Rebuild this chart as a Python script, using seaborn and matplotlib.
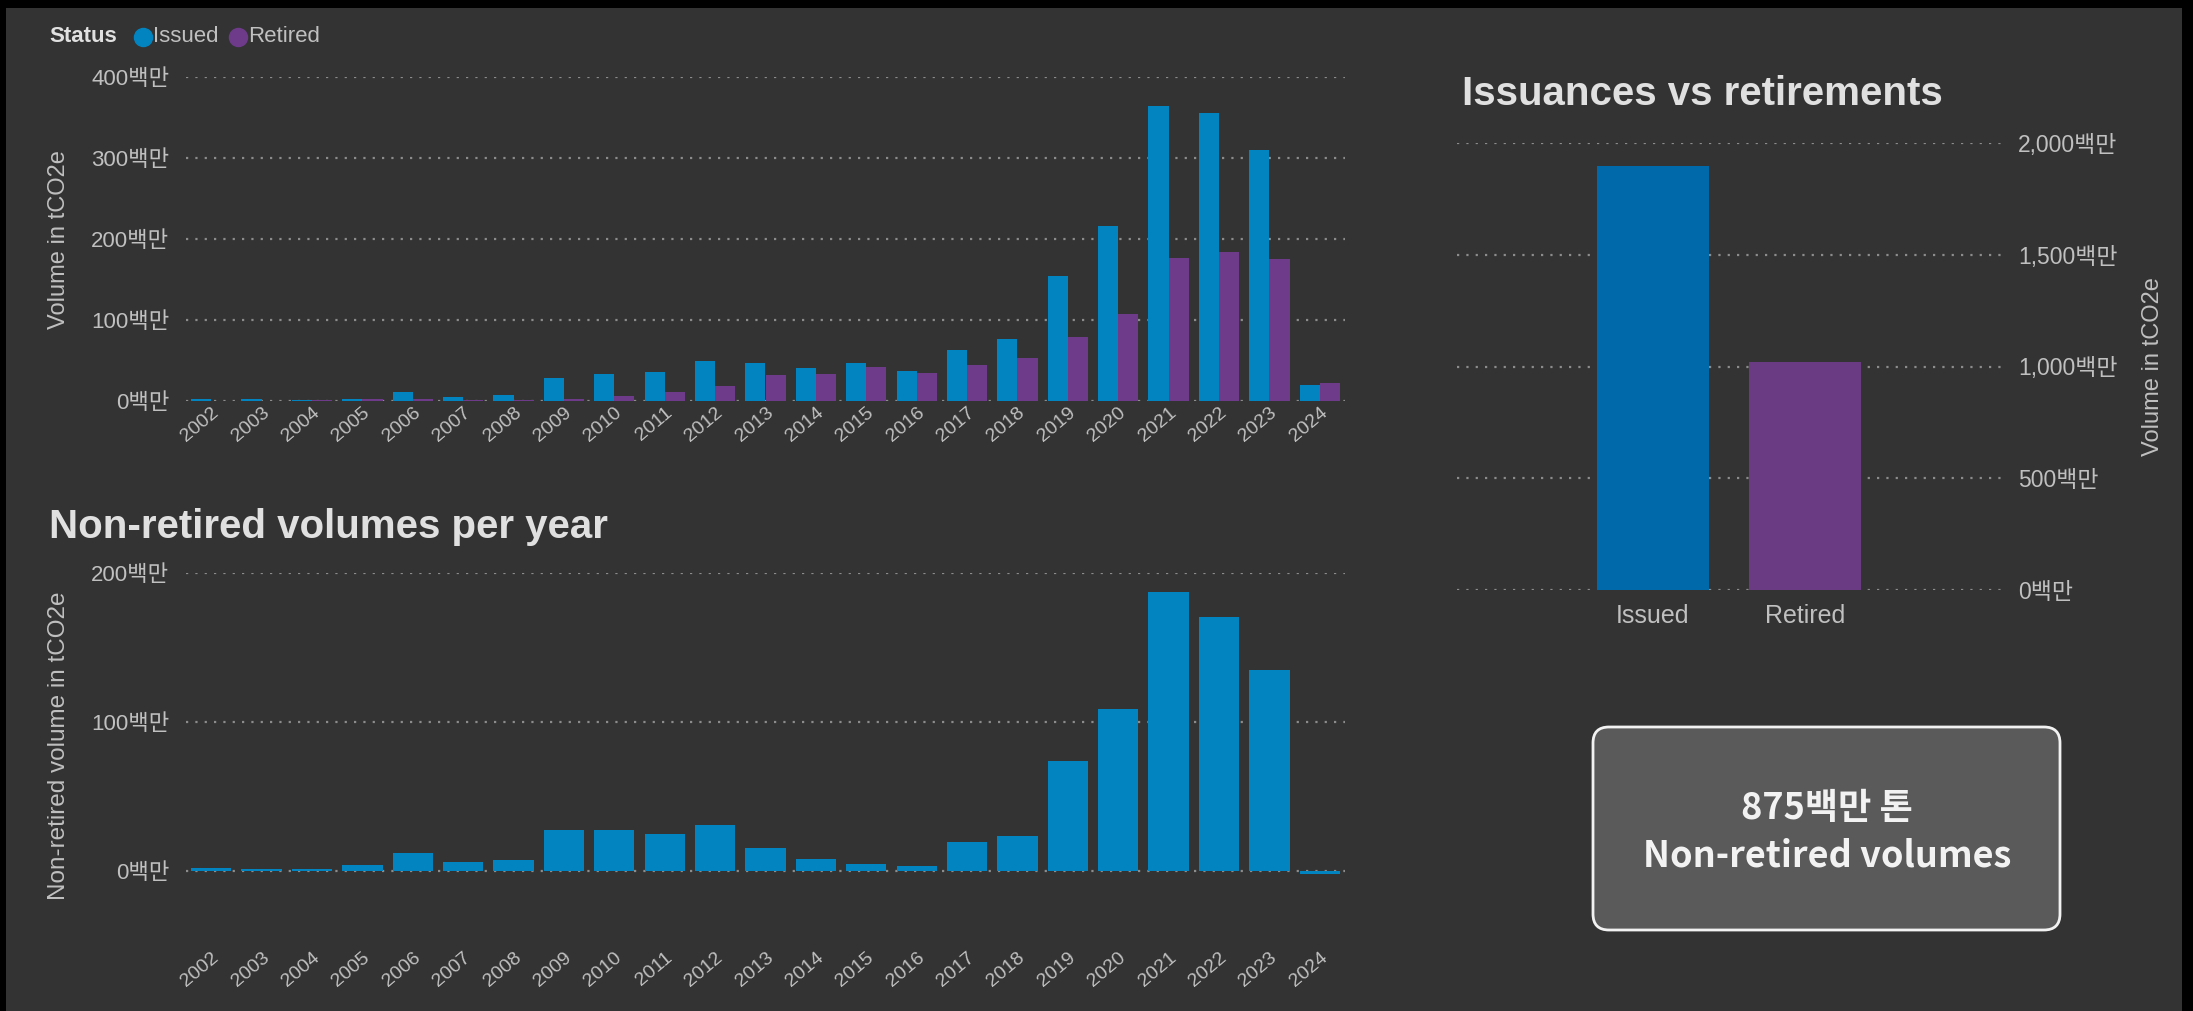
import matplotlib
matplotlib.use("Agg")
import matplotlib.pyplot as plt
from matplotlib.patches import FancyBboxPatch, Rectangle
from matplotlib.lines import Line2D
from matplotlib.ticker import FuncFormatter, FixedLocator
from matplotlib.transforms import IdentityTransform
import seaborn as sns
import pandas as pd

# ---- data (volumes in millions of tCO2e) ----
years = [str(y) for y in range(2002, 2025)]
issued = [2.0, 2.0, 1.5, 2.5, 10.5, 5.0, 7.5, 28.5, 33.0, 35.5, 49.5, 47.5,
          41.0, 47.0, 37.0, 62.5, 76.0, 154.0, 216.5, 364.0, 355.0, 309.5, 19.4]
retired = [0.5, 0.3, 1.5, 3.0, 2.0, 1.5, 1.0, 2.0, 6.0, 11.0, 19.0, 31.5,
           33.0, 42.0, 34.0, 44.6, 53.5, 79.5, 108.0, 176.0, 184.0, 175.6, 22.5]
non_retired = [1.8, 1.3, 1.3, 4.0, 11.9, 6.0, 7.4, 27.5, 27.3, 24.6, 31.0, 15.7,
               7.8, 4.9, 3.3, 19.4, 23.2, 74.0, 108.6, 187.5, 170.3, 134.7, -2.2]
status = ["Issued", "Retired"]
status_totals = [1895, 1020]

top_ticks = [0, 100, 200, 300, 400]
bottom_ticks = [0, 100, 200]
right_ticks = [0, 500, 1000, 1500, 2000]

# ---- style ----
sns.set_theme(style="dark")
FONT = ["Liberation Sans", "Noto Sans CJK KR", "DejaVu Sans"]
plt.rcParams["font.family"] = FONT

BG = "#333333"
TICK_C = "#c0c0c0"
TITLE_C = "#e0e0e0"
GRID_C = "#8c8c8c"
C_ISSUED = "#0284C0"
C_RETIRED = "#6E3B8A"
C_ISSUED_TOT = "#0069AA"
C_RETIRED_TOT = "#6A3A82"

W, H = 2193, 1011
fig = plt.figure(figsize=(W / 100, H / 100), dpi=100)
fig.patch.set_facecolor("black")
fig.add_artist(Rectangle((6, 0), 2176, 1003, facecolor=BG, edgecolor="none",
                         transform=IdentityTransform(), zorder=-10))


def axes_px(left, top, right, bottom):
    ax = fig.add_axes([left / W, 1 - bottom / H, (right - left) / W, (bottom - top) / H])
    ax.set_facecolor("none")
    for s in ax.spines.values():
        s.set_visible(False)
    ax.set_axisbelow(True)
    ax.yaxis.grid(True, linestyle=(0, (1, 3.2)), color=GRID_C, linewidth=1.6)
    ax.xaxis.grid(False)
    ax.tick_params(length=0, colors=TICK_C)
    return ax


def rotate_years(ax):
    for lab in ax.get_xticklabels():
        lab.set_rotation(40)
        lab.set_ha("right")
        lab.set_rotation_mode("anchor")


fmt = FuncFormatter(lambda v, p: f"{v:,.0f}백만")
bar_kw = dict(linewidth=0, edgecolor="none", saturation=1, errorbar=None)

# ---- issued vs retired per year ----
df = pd.DataFrame({
    "Year": years * 2,
    "Volume": issued + retired,
    "Status": ["Issued"] * len(years) + ["Retired"] * len(years),
})
ax1 = axes_px(186, 77, 1345, 401)
sns.barplot(data=df, x="Year", y="Volume", hue="Status", order=years,
            palette=[C_ISSUED, C_RETIRED], width=0.8, legend=False, ax=ax1, **bar_kw)
ax1.set_ylim(0, 400)
ax1.set_xlim(-0.5, len(years) - 0.5)
ax1.yaxis.set_major_locator(FixedLocator(top_ticks))
ax1.yaxis.set_major_formatter(fmt)
ax1.tick_params(axis="y", labelsize=16, pad=12)
ax1.tick_params(axis="x", labelsize=14, pad=2)
rotate_years(ax1)
ax1.set_xlabel("")
ax1.set_ylabel("Volume in tCO2e", fontsize=17, color=TICK_C)
ax1.yaxis.set_label_coords(-0.10, 0.497)

# legend
ly = 1 - 37 / H
fig.text(49 / W, ly, "Status", fontsize=16, fontweight="bold", color=TITLE_C, va="center")
fig.add_artist(Line2D([143 / W], [ly], marker="o", markersize=13, color=C_ISSUED,
                      linestyle="none", transform=fig.transFigure))
fig.text(153 / W, ly, "Issued", fontsize=16, color=TICK_C, va="center")
fig.add_artist(Line2D([238 / W], [ly], marker="o", markersize=13, color=C_RETIRED,
                      linestyle="none", transform=fig.transFigure))
fig.text(248 / W, ly, "Retired", fontsize=16, color=TICK_C, va="center")

# ---- non-retired per year ----
fig.text(49 / W, 1 - 527 / H, "Non-retired volumes per year", fontsize=29,
         fontweight="bold", color=TITLE_C, va="center")
ax2 = axes_px(186, 573, 1345, 875.5)
sns.barplot(x=years, y=non_retired, color=C_ISSUED, width=0.8, ax=ax2, **bar_kw)
ax2.set_ylim(-3, 200)
ax2.set_xlim(-0.5, len(years) - 0.5)
ax2.yaxis.set_major_locator(FixedLocator(bottom_ticks))
ax2.yaxis.set_major_formatter(fmt)
ax2.tick_params(axis="y", labelsize=16, pad=12)
ax2.tick_params(axis="x", labelsize=14, pad=53)
rotate_years(ax2)
ax2.set_ylabel("Non-retired volume in tCO2e", fontsize=17.5, color=TICK_C)
ax2.yaxis.set_label_coords(-0.10, 0.43)

# ---- totals ----
fig.text(1462 / W, 1 - 94 / H, "Issuances vs retirements", fontsize=29,
         fontweight="bold", color=TITLE_C, va="center")
ax3 = axes_px(1457, 143, 2007, 590)
sns.barplot(x=status, y=status_totals, hue=status, palette=[C_ISSUED_TOT, C_RETIRED_TOT],
            width=0.74, legend=False, ax=ax3, **bar_kw)
ax3.set_ylim(0, 2000)
ax3.set_xlim(-1.29, 2.33)
ax3.yaxis.tick_right()
ax3.yaxis.set_label_position("right")
ax3.yaxis.set_major_locator(FixedLocator(right_ticks))
ax3.yaxis.set_major_formatter(fmt)
ax3.tick_params(axis="y", labelsize=16.5, pad=8)
ax3.tick_params(axis="x", labelsize=18, pad=10)
ax3.set_ylabel("Volume in tCO2e", fontsize=17, color=TICK_C)
ax3.yaxis.set_label_coords(1.245, 0.50)

# ---- summary card ----
card = FancyBboxPatch((1593, H - 930), 467, 203, boxstyle="round,pad=0,rounding_size=16",
                      facecolor="#5a5a5a", edgecolor="#f2f2f2", linewidth=2,
                      transform=IdentityTransform(), zorder=5)
fig.add_artist(card)
remaining = status_totals[0] - status_totals[1]
card_font = ["Noto Sans CJK KR", "DejaVu Sans"]
fig.text(1827 / W, 1 - 809 / H, f"{remaining:,}백만 톤", fontsize=26, fontweight="bold",
         color="#f2f2f2", ha="center", va="center", family=card_font, zorder=6)
fig.text(1827 / W, 1 - 856 / H, "Non-retired volumes", fontsize=26, fontweight="bold",
         color="#f2f2f2", ha="center", va="center", family=card_font, zorder=6)

fig.savefig("out.png", dpi=100, facecolor=fig.get_facecolor())
